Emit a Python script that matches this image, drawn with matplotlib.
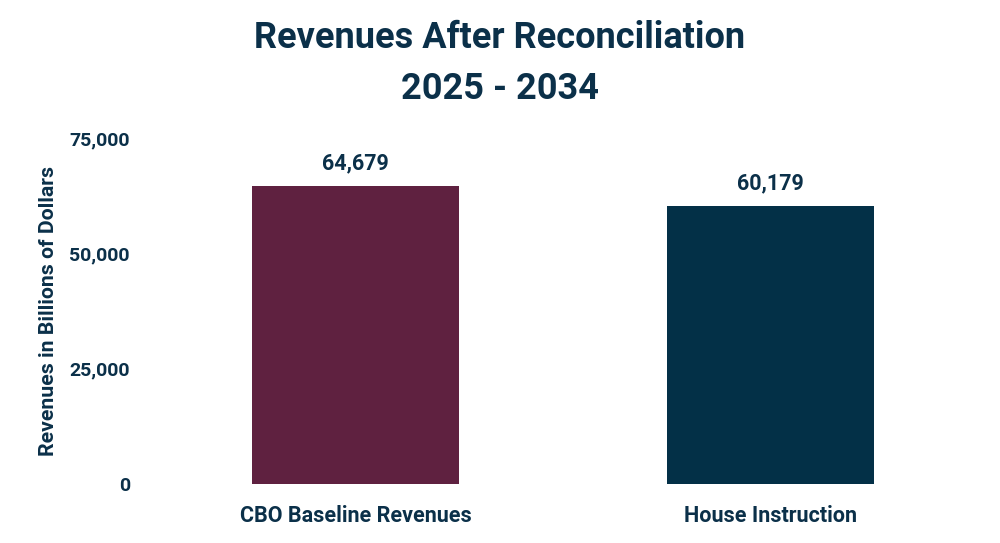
import matplotlib
matplotlib.use("Agg")
from matplotlib import pyplot as plt

categories = ["CBO Baseline Revenues", "House Instruction"]
values = [64679, 60179]
bar_colors = ["#5f2140", "#033047"]
yticks = [0, 25000, 50000, 75000]

text_color = "#0b3049"
plt.rcParams["font.family"] = ["Roboto", "DejaVu Sans"]
plt.rcParams["font.weight"] = "bold"

fig = plt.figure(figsize=(10, 5.43), dpi=100)
ax = fig.add_axes([0.148, 0.1087, 0.83, 0.6372])

x = range(len(categories))
bars = ax.bar(x, values, width=0.5, color=bar_colors)
for b, v in zip(bars, values):
    ax.text(b.get_x() + b.get_width() / 2, v + 2500, f"{v:,}", ha="center", va="bottom",
            fontsize=15.5, fontweight="bold", color=text_color)

ax.set_xlim(-0.5, 1.5)
ax.set_ylim(0, 75000)
ax.set_xticks(list(x))
ax.set_xticklabels(categories, fontsize=15.5, fontweight="bold", color=text_color)
ax.set_yticks(yticks)
ax.set_yticklabels([f"{t:,}" for t in yticks], fontsize=14, fontweight="bold", color=text_color)
ax.tick_params(length=0)
ax.tick_params(axis="y", pad=13)
ax.tick_params(axis="x", pad=15)
ax.set_ylabel("Revenues in Billions of Dollars", fontsize=15.3, fontweight="bold",
              color=text_color, labelpad=8)
for s in ax.spines.values():
    s.set_visible(False)

fig.text(0.5, 0.93, "Revenues After Reconciliation", ha="center", va="center",
         fontsize=26, fontweight="bold", color=text_color)
fig.text(0.5, 0.836, "2025 - 2034", ha="center", va="center",
         fontsize=26, fontweight="bold", color=text_color)

plt.savefig("out.png", dpi=100)
